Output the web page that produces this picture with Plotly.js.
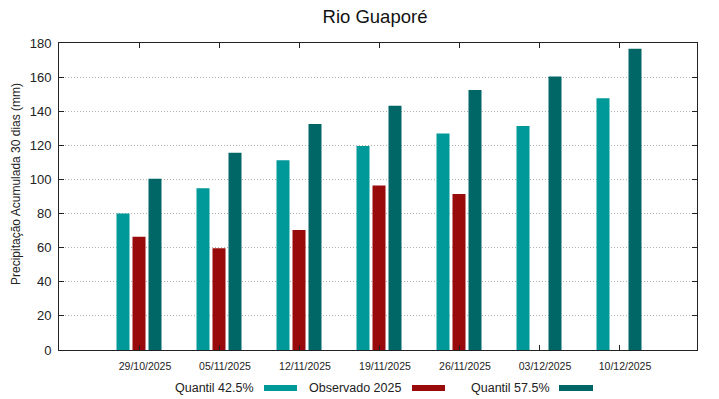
<!DOCTYPE html>
<html>
<head>
<meta charset="utf-8">
<script src="https://cdn.plot.ly/plotly-3.0.1.min.js"></script>
<style>html,body{margin:0;padding:0;background:#fff;}#chart{width:719px;height:399px;}</style>
</head>
<body>
<div id="chart"></div>
<script>
const categories = ['29/10/2025','05/11/2025','12/11/2025','19/11/2025','26/11/2025','03/12/2025','10/12/2025'];
const quantil425 = [80.1, 94.8, 111.2, 119.6, 127.0, 131.3, 147.6];
const observado2025 = [66.4, 59.6, 70.4, 96.5, 91.5, null, null];
const quantil575 = [100.4, 115.7, 132.5, 143.2, 152.4, 160.4, 176.7];
const seriesNames = ['Quantil 42.5%', 'Observado 2025', 'Quantil 57.5%'];
const seriesColors = ['#009999', '#990b0b', '#006666'];
const yTicks = [0, 20, 40, 60, 80, 100, 120, 140, 160, 180];

const seriesData = [quantil425, observado2025, quantil575];
const traces = seriesData.map((vals, i) => ({
  type: 'bar',
  x: categories,
  y: vals,
  name: seriesNames[i],
  marker: {color: seriesColors[i], line: {width: 0}},
  showlegend: false,
  hoverinfo: 'x+y+name'
}));

const W = 719, H = 399, L = 59, R = 22, T = 43, B = 49;
const pw = W - L - R, ph = H - T - B;
const px2x = p => (p - L) / pw;
const py2y = p => (H - B - p) / ph;

// legend (gnuplot style: text then sample to the right)
const legTextRight = [256, 403, 552];
const legSwatch = [[264, 297], [412, 445], [559, 593]];
const legY = 388;
const annotations = seriesNames.map((n, i) => ({
  xref: 'paper', yref: 'paper',
  x: px2x(legTextRight[i]), y: py2y(legY),
  xanchor: 'right', yanchor: 'middle',
  text: n, showarrow: false,
  font: {family: 'Liberation Sans, Arial, sans-serif', size: 12.5, color: '#222'}
}));
annotations.push({
  xref: 'paper', yref: 'paper',
  x: px2x(16), y: py2y(184),
  xanchor: 'center', yanchor: 'middle',
  textangle: -90,
  text: 'Precipitação Acumulada 30 dias (mm)', showarrow: false,
  font: {family: 'Liberation Sans, Arial, sans-serif', size: 12, color: '#222'}
});
const shapes = legSwatch.map((s, i) => ({
  type: 'rect', xref: 'paper', yref: 'paper',
  x0: px2x(s[0]), x1: px2x(s[1]),
  y0: py2y(legY + 3), y1: py2y(legY - 3),
  fillcolor: seriesColors[i], line: {width: 0}
}));

const layout = {
  width: W, height: H,
  margin: {l: L, r: R, t: T, b: B, pad: 0},
  paper_bgcolor: '#fff', plot_bgcolor: '#fff',
  font: {family: 'Liberation Sans, Arial, sans-serif', color: '#222'},
  title: {
    text: 'Rio Guaporé',
    font: {family: 'Liberation Sans, Arial, sans-serif', size: 18.5, color: '#111'},
    xref: 'container', x: 375 / W, xanchor: 'center',
    yref: 'container', y: 1 - 17 / H, yanchor: 'middle'
  },
  barmode: 'group',
  bargap: 0.4,
  bargroupgap: 0.1875,
  xaxis: {
    type: 'category',
    range: [-1, 6.975],
    tickvals: categories,
    ticktext: categories,
    showline: true, linecolor: '#222', linewidth: 1, mirror: 'ticks',
    ticks: 'inside', ticklen: 5, tickcolor: '#222', tickwidth: 1,
    showgrid: false, zeroline: false,
    tickfont: {size: 10.5, color: '#222'},
    ticklabelshift: 6,
    ticklabelstandoff: 6,
    fixedrange: true
  },
  yaxis: {
    range: [0, 180],
    tickvals: yTicks,
    showline: true, linecolor: '#222', linewidth: 1, mirror: 'ticks',
    ticks: 'inside', ticklen: 5, tickcolor: '#222', tickwidth: 1,
    showgrid: true, gridcolor: '#b0b0b0', griddash: '1px,2px', gridwidth: 1,
    zeroline: false,
    tickfont: {size: 13, color: '#222'},
    ticklabelstandoff: 4,
    fixedrange: true
  },
  annotations: annotations,
  shapes: shapes,
  showlegend: false
};

Plotly.newPlot('chart', traces, layout, {displayModeBar: false, staticPlot: true});
</script>
</body>
</html>
